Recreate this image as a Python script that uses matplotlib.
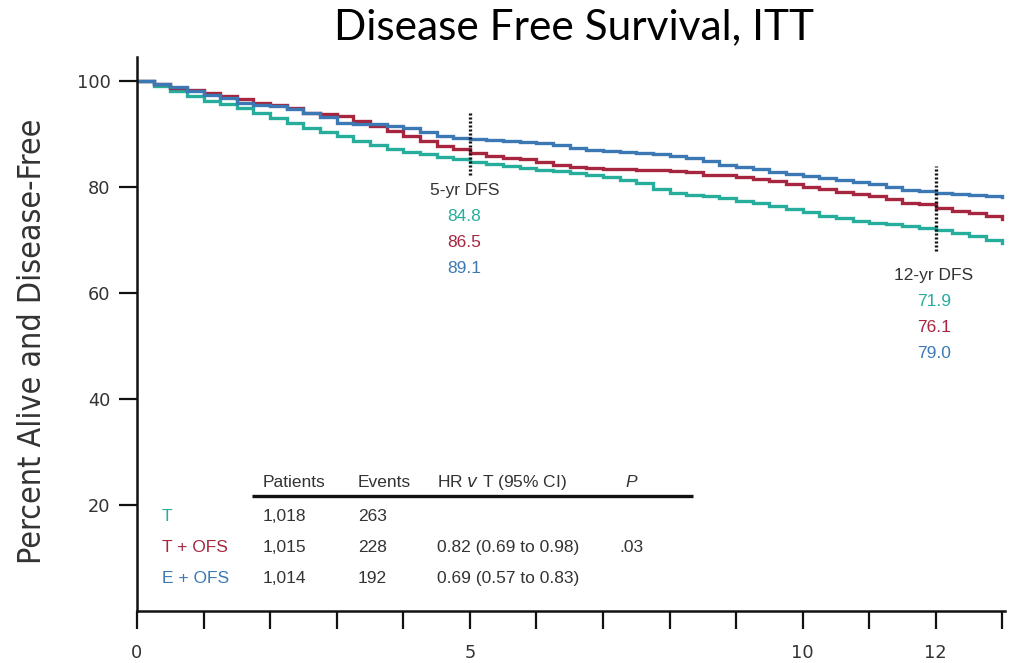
import numpy as np
import matplotlib
matplotlib.use("Agg")
import matplotlib.pyplot as plt

# Kaplan-Meier style disease-free survival estimates (percent), every quarter year
years = [0.0, 0.25, 0.5, 0.75, 1.0, 1.25, 1.5, 1.75, 2.0, 2.25, 2.5, 2.75, 3.0,
         3.25, 3.5, 3.75, 4.0, 4.25, 4.5, 4.75, 5.0, 5.25, 5.5, 5.75, 6.0, 6.25,
         6.5, 6.75, 7.0, 7.25, 7.5, 7.75, 8.0, 8.25, 8.5, 8.75, 9.0, 9.25, 9.5,
         9.75, 10.0, 10.25, 10.5, 10.75, 11.0, 11.25, 11.5, 11.75, 12.0, 12.25,
         12.5, 12.75, 13.0]

dfs_t = [100, 99.2, 98.1, 97.2, 96.3, 95.7, 94.9, 94.0, 93.0, 92.2, 91.2, 90.4,
         89.6, 88.8, 88.0, 87.3, 86.7, 86.2, 85.8, 85.3, 84.8, 84.4, 84.0, 83.6,
         83.3, 83.0, 82.7, 82.3, 81.9, 81.4, 80.8, 79.6, 79.0, 78.6, 78.3, 78.0,
         77.4, 77.0, 76.5, 75.9, 75.3, 74.6, 74.2, 73.7, 73.3, 73.0, 72.7, 72.3,
         71.9, 71.4, 70.8, 70.1, 69.4]

dfs_t_ofs = [100, 99.5, 98.8, 98.3, 97.8, 97.2, 96.6, 96.0, 95.6, 94.9, 94.1,
             93.8, 93.4, 92.6, 91.6, 90.7, 89.7, 88.8, 87.8, 87.2, 86.5, 86.0,
             85.6, 85.3, 84.8, 84.2, 83.8, 83.6, 83.5, 83.4, 83.3, 83.2, 83.1,
             82.8, 82.4, 82.3, 81.9, 81.6, 81.2, 80.7, 80.1, 79.6, 79.2, 78.8,
             78.4, 77.8, 77.1, 76.8, 76.1, 75.6, 75.1, 74.6, 74.1]

dfs_e_ofs = [100, 99.5, 98.9, 98.1, 97.5, 96.8, 96.0, 95.6, 95.3, 94.7, 94.1,
             93.2, 92.2, 92.0, 91.9, 91.6, 91.2, 90.4, 89.6, 89.3, 89.1, 88.9,
             88.7, 88.5, 88.3, 87.9, 87.5, 87.1, 86.8, 86.6, 86.4, 86.2, 86.0,
             85.6, 85.0, 84.2, 83.8, 83.4, 82.9, 82.5, 82.2, 81.8, 81.4, 81.0,
             80.6, 80.0, 79.5, 79.3, 79.0, 78.8, 78.6, 78.4, 78.2]

arm_labels = ["T", "T + OFS", "E + OFS"]
patients = ["1,018", "1,015", "1,014"]
events = ["263", "228", "192"]
hazard_ratios = ["", "0.82 (0.69 to 0.98)", "0.69 (0.57 to 0.83)"]
p_values = ["", ".03", ""]

landmark_years = [5, 12]
landmark_titles = ["5-yr DFS", "12-yr DFS"]
landmark_dfs = {5: ["84.8", "86.5", "89.1"], 12: ["71.9", "76.1", "79.0"]}

x_tick_labels = {0: "0", 5: "5", 10: "10", 12: "12"}
y_ticks = [20, 40, 60, 80, 100]

colors = ["#27ad9c", "#a6263f", "#3b78b4"]
ink = "#333333"

fig = plt.figure(figsize=(10.10, 6.63), dpi=100)
ax = fig.add_axes([137 / 1010, (663 - 611) / 663, (1005 - 137) / 1010, (611 - 57) / 663])

for series, col in zip([dfs_t, dfs_t_ofs, dfs_e_ofs], colors):
    ax.step(years, series, where="post", color=col, lw=2.4, solid_joinstyle="miter")

ax.set_xlim(0, 13.04)
ax.set_ylim(0, 104.6)

for side in ["top", "right"]:
    ax.spines[side].set_visible(False)
for side in ["left", "bottom"]:
    ax.spines[side].set_linewidth(1.8)
    ax.spines[side].set_color("#111111")

ax.set_xticks(range(0, 14))
ax.set_xticklabels([x_tick_labels.get(i, "") for i in range(0, 14)])
ax.set_yticks(y_ticks)
ax.set_yticklabels([str(v) for v in y_ticks])
ax.tick_params(axis="x", direction="out", length=13, width=1.6, color="#111111",
               pad=11, labelsize=12.8, labelcolor=ink)
ax.tick_params(axis="y", direction="out", length=13, width=1.6, color="#111111",
               pad=6, labelsize=12.8, labelcolor=ink)
for lab in ax.get_xticklabels() + ax.get_yticklabels():
    lab.set_family("DejaVu Sans")

# Landmark markers with the DFS estimates underneath
label_y = {5: (82.3, 94.3, 79.4), 12: (68.0, 84.0, 63.3)}
for yr, title in zip(landmark_years, landmark_titles):
    lo, hi, ty = label_y[yr]
    ax.plot([yr, yr], [lo, hi], color="#111111", lw=2.4, ls=(0, (0.6, 0.6)))
    cx = yr - 0.08 if yr == 5 else yr - 0.03
    ax.text(cx, ty, title, ha="center", va="center", fontsize=12.5,
            family="Liberation Sans", color=ink)
    for k, (val, col) in enumerate(zip(landmark_dfs[yr], colors)):
        ax.text(cx, ty - 4.9 * (k + 1), val, ha="center", va="center",
                fontsize=12.5, family="Liberation Sans", color=col)

# Summary table
tfont = dict(fontsize=12.5, family="Liberation Sans", va="center")
hdr_y = 24.3
ax.text(1.88, hdr_y, "Patients", color=ink, **tfont)
ax.text(3.32, hdr_y, "Events", color=ink, **tfont)
ax.text(4.50, hdr_y, r"HR $\it{v}$ T (95% CI)", color=ink, **tfont)
ax.text(7.43, hdr_y, "P", color=ink, style="italic", ha="center",
        fontsize=12.5, family="Liberation Sans", va="center")
ax.plot([1.73, 8.35], [21.7, 21.7], color="#111111", lw=2.4, solid_capstyle="butt")

row_y = [17.9, 11.9, 6.2]
for name, pts, ev, hr, pv, col, ry in zip(arm_labels, patients, events,
                                          hazard_ratios, p_values, colors, row_y):
    ax.text(0.375, ry, name, color=col, **tfont)
    ax.text(1.88, ry, pts, color=ink, **tfont)
    ax.text(3.32, ry, ev, color=ink, **tfont)
    ax.text(4.50, ry, hr, color=ink, **tfont)
    ax.text(7.25, ry, pv, color=ink, **tfont)

fig.text(33 / 1010, 1 - 341 / 663, "Percent Alive and Disease-Free", rotation=90,
         ha="center", va="center", fontsize=23, family="DejaVu Sans",
         fontstretch="condensed", color=ink)

fig.text(574 / 1010, 1 - 27 / 663, "Disease Free Survival, ITT", ha="center",
         va="center", fontsize=30.5, family="Lato", color="#000000")

fig.savefig("out.png", dpi=100)
